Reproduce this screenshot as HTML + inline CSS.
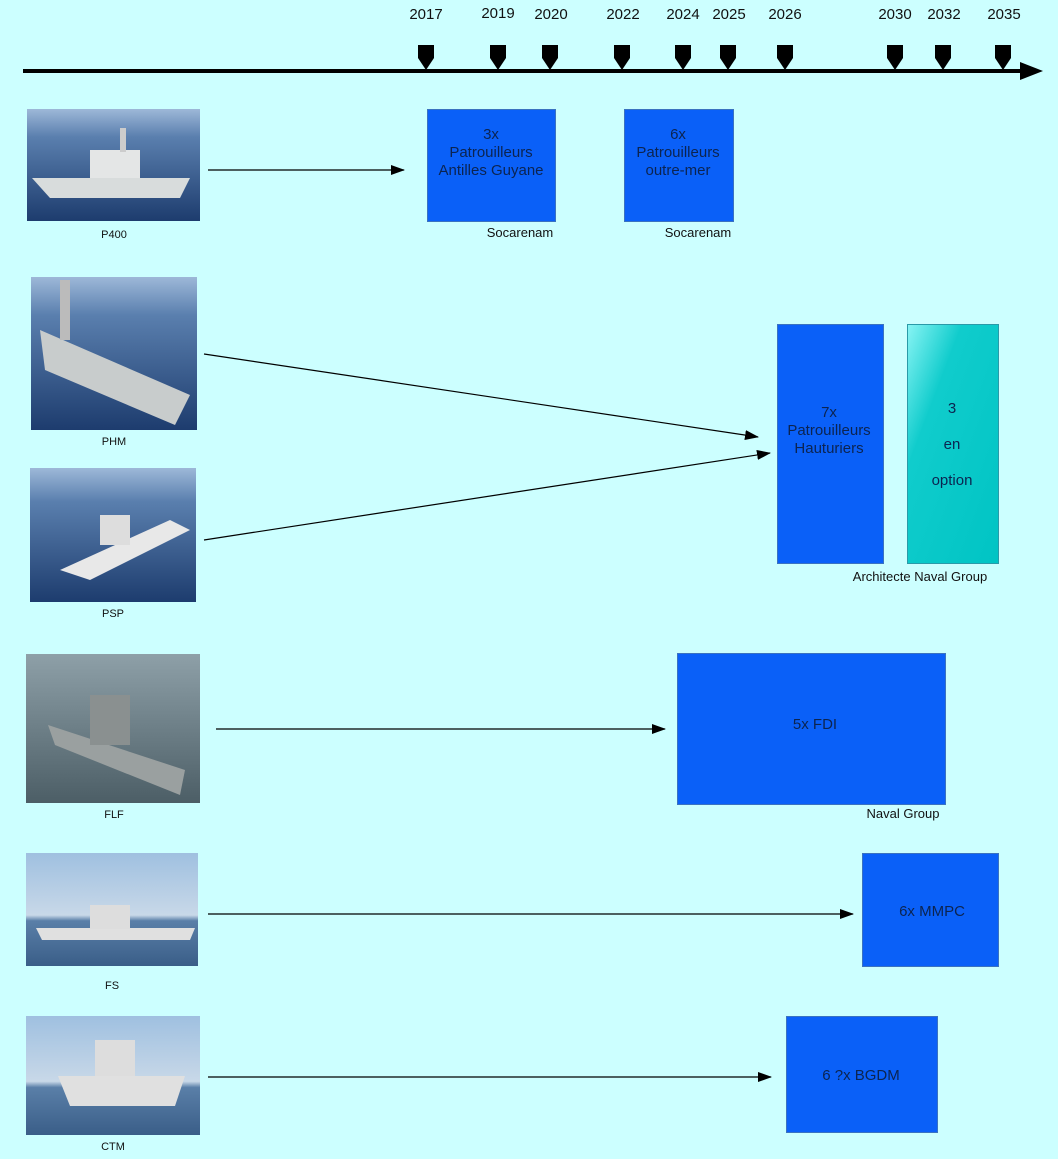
<!DOCTYPE html>
<html><head><meta charset="utf-8"><style>
html,body{margin:0;padding:0;background:#ccffff;}
svg{display:block;font-family:"Liberation Sans",Arial,sans-serif;}
</style></head><body>
<svg width="1058" height="1159" viewBox="0 0 1058 1159" xmlns="http://www.w3.org/2000/svg">
<defs>
<marker id="ah" markerWidth="14" markerHeight="10" refX="13" refY="5" orient="auto" markerUnits="userSpaceOnUse">
<path d="M0,0 L14,5 L0,10 Z" fill="#000"/></marker>
<linearGradient id="sea" x1="0" y1="0" x2="0" y2="1">
<stop offset="0" stop-color="#9db8d8"/><stop offset="0.25" stop-color="#5a7fae"/><stop offset="1" stop-color="#1d3c6e"/></linearGradient>
<linearGradient id="sea2" x1="0" y1="0" x2="0" y2="1">
<stop offset="0" stop-color="#8ea0a8"/><stop offset="1" stop-color="#4c5e66"/></linearGradient>
<linearGradient id="sky" x1="0" y1="0" x2="0" y2="1">
<stop offset="0" stop-color="#9fc0e0"/><stop offset="0.55" stop-color="#c8d8e8"/><stop offset="0.6" stop-color="#5a7fa8"/><stop offset="1" stop-color="#3a5e88"/></linearGradient>
<linearGradient id="opt" x1="0" y1="0" x2="1" y2="1">
<stop offset="0" stop-color="#88f4f4"/><stop offset="0.3" stop-color="#10cccc"/><stop offset="1" stop-color="#00c4c4"/></linearGradient>
</defs>

<!-- timeline -->
<line x1="23" y1="71" x2="1025" y2="71" stroke="#000" stroke-width="4"/>
<path d="M1020,62 L1043,71 L1020,80 Z" fill="#000"/>
<g fill="#000">
<path d="M418,45 h16 v13 l-8,12 l-8,-12 Z"/>
<path d="M490,45 h16 v13 l-8,12 l-8,-12 Z"/>
<path d="M542,45 h16 v13 l-8,12 l-8,-12 Z"/>
<path d="M614,45 h16 v13 l-8,12 l-8,-12 Z"/>
<path d="M675,45 h16 v13 l-8,12 l-8,-12 Z"/>
<path d="M720,45 h16 v13 l-8,12 l-8,-12 Z"/>
<path d="M777,45 h16 v13 l-8,12 l-8,-12 Z"/>
<path d="M887,45 h16 v13 l-8,12 l-8,-12 Z"/>
<path d="M935,45 h16 v13 l-8,12 l-8,-12 Z"/>
<path d="M995,45 h16 v13 l-8,12 l-8,-12 Z"/>
</g>
<g font-size="15" fill="#111" text-anchor="middle">
<text x="426" y="19">2017</text><text x="498" y="18">2019</text><text x="551" y="19">2020</text>
<text x="623" y="19">2022</text><text x="683" y="19">2024</text><text x="729" y="19">2025</text>
<text x="785" y="19">2026</text><text x="895" y="19">2030</text><text x="944" y="19">2032</text>
<text x="1004" y="19">2035</text>
</g>

<!-- photos -->
<g>
<rect x="27" y="109" width="173" height="112" fill="url(#sea)"/>
<path d="M32,178 L190,178 L180,198 L50,198 Z" fill="#d8dcdc"/><rect x="90" y="150" width="50" height="28" fill="#e4e6e6"/><rect x="120" y="128" width="6" height="24" fill="#ccc"/>
<rect x="31" y="277" width="166" height="153" fill="url(#sea)"/>
<path d="M40,330 L190,395 L175,425 L45,370 Z" fill="#c8cccc"/><rect x="60" y="280" width="10" height="60" fill="#bbb"/>
<rect x="30" y="468" width="166" height="134" fill="url(#sea)"/>
<path d="M60,570 L170,520 L190,530 L90,580 Z" fill="#e8e8e8"/><rect x="100" y="515" width="30" height="30" fill="#ddd"/>
<rect x="26" y="654" width="174" height="149" fill="url(#sea2)"/>
<path d="M48,725 L185,770 L180,795 L55,745 Z" fill="#9aa0a0"/><rect x="90" y="695" width="40" height="50" fill="#8a9090"/>
<rect x="26" y="853" width="172" height="113" fill="url(#sky)"/>
<path d="M36,928 L195,928 L190,940 L42,940 Z" fill="#e0e0e0"/><rect x="90" y="905" width="40" height="24" fill="#ddd"/>
<rect x="26" y="1016" width="174" height="119" fill="url(#sky)"/>
<path d="M58,1076 L185,1076 L175,1106 L70,1106 Z" fill="#e0e0e0"/><rect x="95" y="1040" width="40" height="36" fill="#ddd"/>
</g>
<g font-size="11" fill="#111" text-anchor="middle">
<text x="114" y="238">P400</text><text x="114" y="445">PHM</text><text x="113" y="617">PSP</text>
<text x="114" y="818">FLF</text><text x="112" y="989">FS</text><text x="113" y="1150">CTM</text>
</g>

<!-- arrows -->
<g stroke="#000" stroke-width="1.2" fill="none" marker-end="url(#ah)">
<line x1="208" y1="170" x2="404" y2="170"/>
<line x1="204" y1="354" x2="758" y2="437"/>
<line x1="204" y1="540" x2="770" y2="453"/>
<line x1="216" y1="729" x2="665" y2="729"/>
<line x1="208" y1="914" x2="853" y2="914"/>
<line x1="208" y1="1077" x2="771" y2="1077"/>
</g>

<!-- boxes -->
<g fill="#0a60f8" stroke="#3a72c0" stroke-width="1">
<rect x="427.5" y="109.5" width="128" height="112"/>
<rect x="624.5" y="109.5" width="109" height="112"/>
<rect x="777.5" y="324.5" width="106" height="239"/>
<rect x="677.5" y="653.5" width="268" height="151"/>
<rect x="862.5" y="853.5" width="136" height="113"/>
<rect x="786.5" y="1016.5" width="151" height="116"/>
</g>
<rect x="907.5" y="324.5" width="91" height="239" fill="url(#opt)" stroke="#2a9aa8"/>

<g font-size="15" fill="#0c2450" text-anchor="middle">
<text x="491" y="139">3x</text><text x="491" y="157">Patrouilleurs</text><text x="491" y="175">Antilles Guyane</text>
<text x="678" y="139">6x</text><text x="678" y="157">Patrouilleurs</text><text x="678" y="175">outre-mer</text>
<text x="829" y="417">7x</text><text x="829" y="435">Patrouilleurs</text><text x="829" y="453">Hauturiers</text>
<text x="952" y="413">3</text><text x="952" y="449">en</text><text x="952" y="485">option</text>
<text x="815" y="729">5x FDI</text>
<text x="932" y="916">6x MMPC</text>
<text x="861" y="1080">6 ?x BGDM</text>
</g>
<g font-size="13" fill="#111" text-anchor="middle">
<text x="520" y="237">Socarenam</text><text x="698" y="237">Socarenam</text>
<text x="920" y="581">Architecte Naval Group</text>
<text x="903" y="818">Naval Group</text>
</g>
</svg>
</body></html>
